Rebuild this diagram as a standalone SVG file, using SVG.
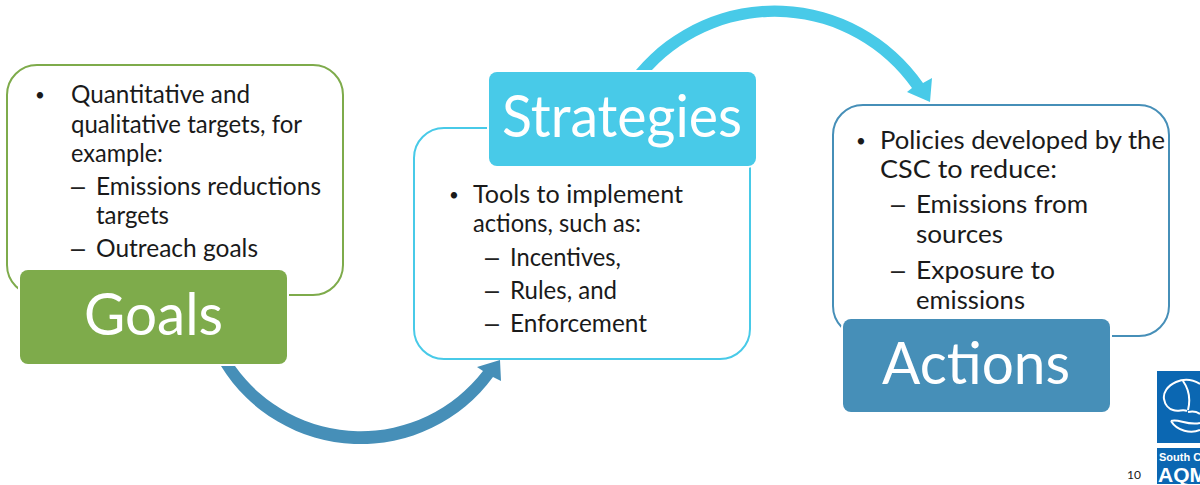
<svg xmlns="http://www.w3.org/2000/svg" width="1200" height="485" viewBox="0 0 1200 485">
<style>
text{font-family:"Lato","Liberation Sans",sans-serif;fill:#1a1a1a}
.b{font-size:25px}
.m{font-size:17px}
.d{font-size:25px;font-family:"Liberation Sans",sans-serif;fill:#222}
.h{font-size:58px;fill:#fff}
.box{fill:#fff;stroke-width:2}
.t{stroke:#fff;stroke-width:4;paint-order:stroke}
.lg{font-weight:700;fill:#fff;font-family:"Liberation Sans",sans-serif}
</style>
<rect width="1200" height="485" fill="#fff"/>
<g id="connectors">
<path d="M221 366A164 164 0 0 0 493 377L501 381L500 360L477 367L483 371A154 154 0 0 1 235 366Z" fill="#468fb8"/>
<path d="M636 70A181 181 0 0 1 923 83L932 78L930 102L907 92L912 88A168 168 0 0 0 652 70Z" fill="#48cae8"/>
</g>
<g id="goals">
<rect class="box" x="7" y="65" width="336" height="230" rx="30" stroke="#7eab4b"/>
<rect class="t" x="20" y="270" width="267" height="94" rx="8" fill="#7eab4b"/>
<text class="h" x="84" y="335" textLength="139" lengthAdjust="spacingAndGlyphs">Goals</text>
<text class="m" x="35" y="101">•</text>
<text class="b" x="71" y="103" textLength="179" lengthAdjust="spacingAndGlyphs">Quantitative and</text>
<text class="b" x="71" y="133" textLength="231" lengthAdjust="spacingAndGlyphs">qualitative targets, for</text>
<text class="b" x="71" y="162" textLength="92" lengthAdjust="spacingAndGlyphs">example:</text>
<text class="d" x="71" y="195">–</text>
<text class="b" x="96" y="195" textLength="225" lengthAdjust="spacingAndGlyphs">Emissions reductions</text>
<text class="b" x="96" y="224" textLength="73" lengthAdjust="spacingAndGlyphs">targets</text>
<text class="d" x="71" y="257">–</text>
<text class="b" x="96" y="257" textLength="162" lengthAdjust="spacingAndGlyphs">Outreach goals</text>
</g>
<g id="strategies">
<rect class="box" x="414" y="128" width="336" height="231" rx="30" stroke="#48cae8"/>
<rect class="t" x="489" y="72" width="267" height="94" rx="8" fill="#48cae8"/>
<text class="h" x="502" y="137" textLength="240" lengthAdjust="spacingAndGlyphs">Strategies</text>
<text class="m" x="449" y="201">•</text>
<text class="b" x="473" y="203" textLength="210" lengthAdjust="spacingAndGlyphs">Tools to implement</text>
<text class="b" x="473" y="232" textLength="168" lengthAdjust="spacingAndGlyphs">actions, such as:</text>
<text class="d" x="485" y="266">–</text>
<text class="b" x="510" y="266" textLength="111" lengthAdjust="spacingAndGlyphs">Incentives,</text>
<text class="d" x="485" y="299">–</text>
<text class="b" x="510" y="299" textLength="107" lengthAdjust="spacingAndGlyphs">Rules, and</text>
<text class="d" x="485" y="332">–</text>
<text class="b" x="510" y="332" textLength="137" lengthAdjust="spacingAndGlyphs">Enforcement</text>
</g>
<g id="actions">
<rect class="box" x="833" y="105" width="336" height="231" rx="30" stroke="#468fb8"/>
<rect class="t" x="843" y="319" width="267" height="93" rx="8" fill="#468fb8"/>
<text class="h" x="882" y="384" textLength="188" lengthAdjust="spacingAndGlyphs">Actions</text>
<text class="m" x="856" y="147">•</text>
<text class="b" x="880" y="149" textLength="285" lengthAdjust="spacingAndGlyphs">Policies developed by the</text>
<text class="b" x="880" y="178" textLength="177" lengthAdjust="spacingAndGlyphs">CSC to reduce:</text>
<text class="d" x="891" y="213">–</text>
<text class="b" x="916" y="213" textLength="172" lengthAdjust="spacingAndGlyphs">Emissions from</text>
<text class="b" x="916" y="243" textLength="87" lengthAdjust="spacingAndGlyphs">sources</text>
<text class="d" x="891" y="279">–</text>
<text class="b" x="916" y="279" textLength="139" lengthAdjust="spacingAndGlyphs">Exposure to</text>
<text class="b" x="916" y="309" textLength="109" lengthAdjust="spacingAndGlyphs">emissions</text>
</g>
<g id="logo">
<rect x="1157" y="371" width="43" height="72" fill="#0b67b2"/>
<rect x="1157" y="448" width="43" height="36" fill="#0b67b2"/>
<path d="M1200 384C1192 379 1183 379 1176 382C1167 386 1163 393 1164 399C1165 405 1169 409 1173 410C1178 412 1183 409 1187 411M1183 381C1188 388 1191 398 1188 410M1200 414C1196 411 1192 411 1188 412M1171 421C1177 431 1191 434 1200 430M1171 421C1178 418 1187 426 1200 423" fill="none" stroke="#fff" stroke-width="2"/>
<text class="lg" x="1159" y="461" style="font-size:11px">South C</text>
<text class="lg" x="1158" y="482" style="font-size:21px">AQM</text>
</g>
<text x="1127" y="479" style="font-size:12px">10</text>
</svg>
